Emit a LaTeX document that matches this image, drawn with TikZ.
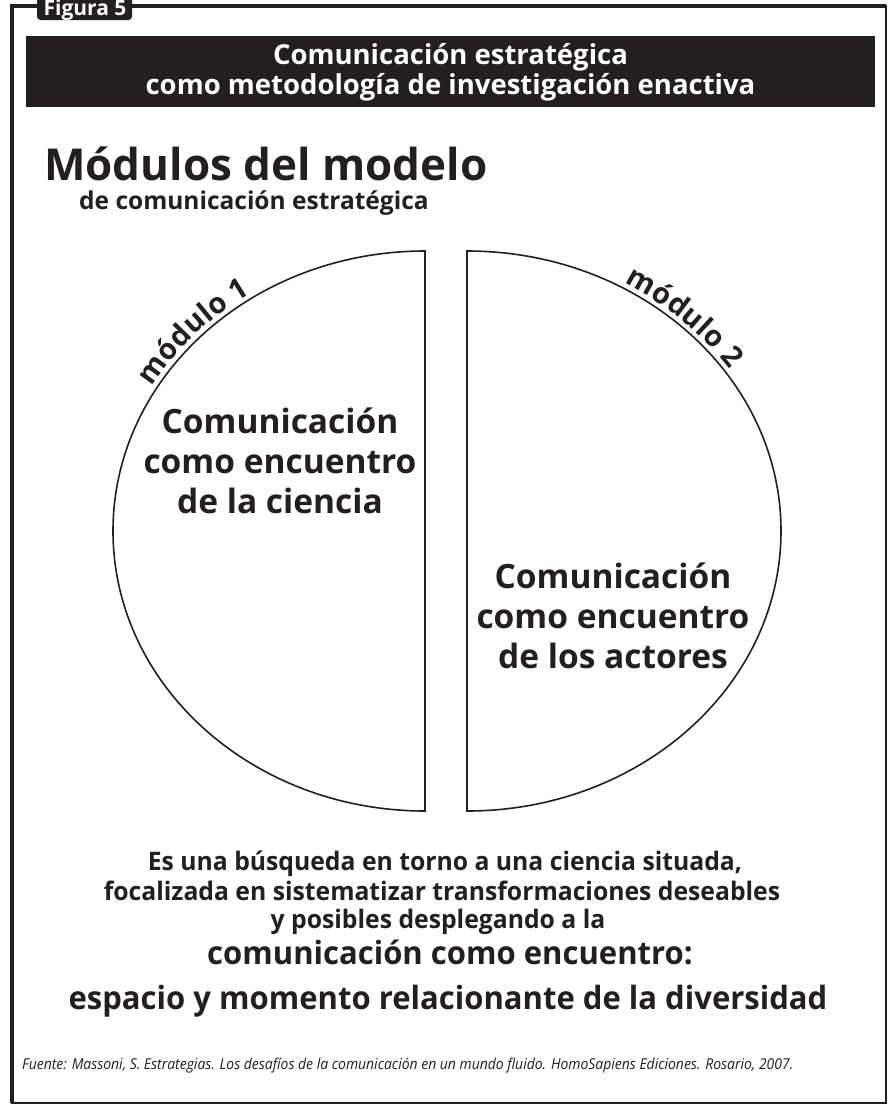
\documentclass[tikz,border=0pt]{standalone}
\usepackage{fontspec}
\setmainfont{Open Sans}
\newfontfamily\condfont[FakeStretch=0.97]{Open Sans}
\newfontfamily\srcfont[FakeStretch=0.93]{Open Sans}
\usetikzlibrary{decorations.text}
\definecolor{ink}{RGB}{35,31,32}
\begin{document}
\begin{tikzpicture}[x=1pt,y=1pt,
  txt/.style={text=ink, inner sep=0pt, font=\bfseries\fontsize{#1}{#1}\selectfont},
  half/.style={draw=ink, line width=1.6pt, line join=miter},
  ctext/.style={text=ink, align=center, inner sep=0pt, font=\bfseries\fontsize{33.5}{40}\selectfont},
  ltext/.style={text=ink, inner sep=0pt, anchor=base, font=\condfont\bfseries\fontsize{#1}{#1}\selectfont}]
\useasboundingbox (0,0) rectangle (891,-1106);
\fill[white] (0,0) rectangle (891,-1106);
% frame
\draw[ink, line width=2.6pt] (12,-6) rectangle (886,-1103);
\draw[ink, line width=4pt] (12,-1103) -- (12,-6) -- (886,-6);
% tab
\node[fill=ink, rounded corners=3.5pt, minimum width=95pt, minimum height=30pt, inner sep=0pt] (tab) at (84.5,-5) {};
\node[text=white, inner sep=0pt, anchor=base, font=\bfseries\fontsize{21}{21}\selectfont] (tabtxt) at (85,-15) {Figura 5};
% title bar
\node[fill=ink, minimum width=849pt, minimum height=71pt, anchor=north west, inner sep=0pt] (bar) at (26,-36) {};
\node[text=white, align=center, inner sep=0pt, font=\bfseries\fontsize{27.5}{30}\selectfont] (bartxt) at (450.5,-72) {Comunicación estratégica\\como metodología de investigación enactiva};
% heading
\node[txt=44, anchor=west] (head) at (44,-164) {Módulos del modelo};
\node[txt=24.5, anchor=west] (sub) at (79,-203) {de comunicación estratégica};
% half ellipses
\draw[half] (425,-251) arc[start angle=90, end angle=270, x radius=312pt, y radius=280pt] -- cycle;
\draw[half] (467,-811) arc[start angle=-90, end angle=90, x radius=314pt, y radius=280pt] -- cycle;
% arc labels
\path[decorate, decoration={text along path, text align=center, raise=5pt,
  text={|\bfseries\fontsize{29}{29}\selectfont\color{ink}|módulo 1}}]
  (425,-531) ++(163:312pt and 280pt) arc[start angle=163, end angle=111, x radius=312pt, y radius=280pt];
\path[decorate, decoration={text along path, text align=center, raise=5pt,
  text={|\bfseries\fontsize{29}{29}\selectfont\color{ink}|módulo 2}}]
  (467,-531) ++(73:314pt and 280pt) arc[start angle=73, end angle=21, x radius=314pt, y radius=280pt];
% circle texts
\node[ctext] (m1) at (280,-461) {Comunicación\\como encuentro\\de la ciencia};
\node[ctext] (m2) at (613,-616) {Comunicación\\como encuentro\\de los actores};
% bottom text
\node[ltext=25.5] (b1) at (445,-870) {Es una búsqueda en torno a una ciencia situada,};
\node[ltext=25.5] (b2) at (442,-900) {focalizada en sistematizar transformaciones deseables};
\node[ltext=25.5] (b3) at (438,-928) {y posibles desplegando a la};
\node[ltext=32] (b4) at (450,-964) {comunicación como encuentro:};
\node[ltext=32] (b5) at (448,-1009) {espacio y momento relacionante de la diversidad};
\node[text=ink, inner sep=0pt, anchor=base west, font=\srcfont\itshape\fontsize{15}{15}\selectfont] (src) at (22,-1069) {Fuente: Massoni, S. Estrategias. Los desafíos de la comunicación en un mundo fluido. HomoSapiens Ediciones. Rosario, 2007.};
\end{tikzpicture}
\end{document}
